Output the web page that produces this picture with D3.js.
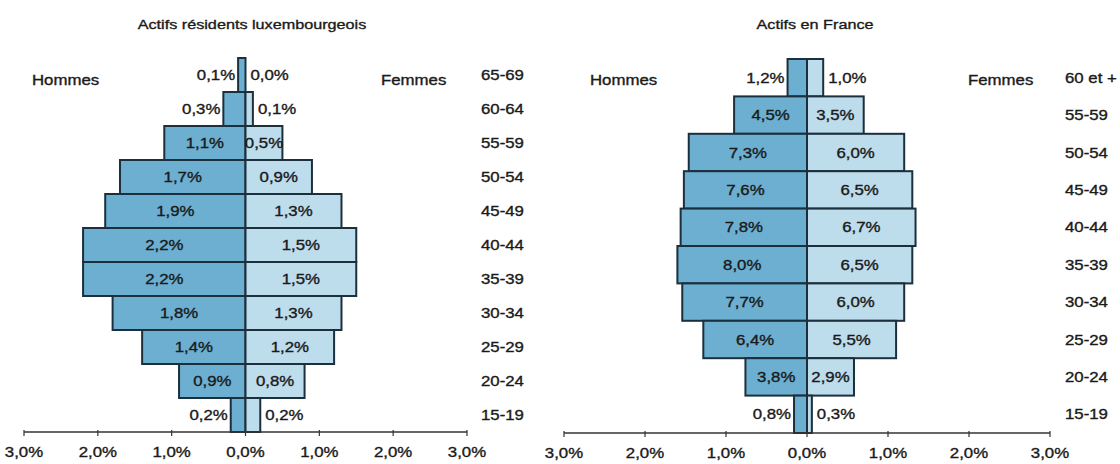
<!DOCTYPE html>
<html><head><meta charset="utf-8">
<script src="https://cdn.jsdelivr.net/npm/d3@7"></script>
<style>body{margin:0;background:#fff}svg{display:block}</style>
</head><body>
<svg id="c" width="1120" height="464"></svg>
<script>
const ageLux = ["65-69","60-64","55-59","50-54","45-49","40-44","35-39","30-34","25-29","20-24","15-19"];
const luxHommes = [0.1,0.3,1.1,1.7,1.9,2.2,2.2,1.8,1.4,0.9,0.2];
const luxFemmes = [0.0,0.1,0.5,0.9,1.3,1.5,1.5,1.3,1.2,0.8,0.2];
const ageFr = ["60 et +","55-59","50-54","45-49","40-44","35-39","30-34","25-29","20-24","15-19"];
const frHommes = [1.2,4.5,7.3,7.6,7.8,8.0,7.7,6.4,3.8,0.8];
const frFemmes = [1.0,3.5,6.0,6.5,6.7,6.5,6.0,5.5,2.9,0.3];
const tickValues = [-3,-2,-1,0,1,2,3];
const tickLabels = ["3,0%","2,0%","1,0%","0,0%","1,0%","2,0%","3,0%"];
const titles = ["Actifs résidents luxembourgeois","Actifs en France"];

const svg = d3.select("#c");
const FONT = "'Liberation Sans', Arial, sans-serif";
const FS = 14, SX = 1.2;
const fmt = v => v.toFixed(1).replace('.', ',') + '%';
const colH = "#6cafd1", colF = "#bddcec", stroke = "#1b2f3c";

function txt(g, x, y, s, anchor, size) {
  g.append("text").attr("transform", `translate(${x},${y}) scale(${SX},1)`)
    .attr("text-anchor", anchor || "start").attr("font-family", FONT)
    .attr("font-size", size || FS).attr("fill", "#1a1a1a")
    .attr("stroke", "#1a1a1a").attr("stroke-width", 0.35).text(s);
}

function pyramid(cfg) {
  const g = svg.append("g");
  const x = d3.scaleLinear().domain([-3, 3]).range(cfg.xr);
  const y = d3.scaleBand().domain(cfg.ages).range(cfg.yr).padding(0);
  const bw = y.bandwidth();
  const x0 = x(0);
  const rows = cfg.ages.map((a, i) => ({a, h: cfg.h[i], f: cfg.f[i]}));
  g.selectAll("rect.h").data(rows).join("rect")
    .attr("x", d => x(-d.h / cfg.k)).attr("y", d => y(d.a))
    .attr("width", d => x0 - x(-d.h / cfg.k)).attr("height", bw)
    .attr("fill", colH).attr("stroke", stroke).attr("stroke-width", 2);
  g.selectAll("rect.f").data(rows).join("rect")
    .attr("x", x0).attr("y", d => y(d.a))
    .attr("width", d => x(d.f / cfg.k) - x0).attr("height", bw)
    .attr("fill", colF).attr("stroke", stroke).attr("stroke-width", 2);
  const LW = 40;
  rows.forEach(d => {
    const cy = y(d.a) + bw / 2 + 5;
    const wh = x0 - x(-d.h / cfg.k);
    if (wh >= LW - 2) txt(g, x0 - wh / 2, cy, fmt(d.h), "middle");
    else txt(g, x0 - wh - 3, cy, fmt(d.h), "end");
    const wf = x(d.f / cfg.k) - x0;
    if (wf >= LW - 4) txt(g, x0 + wf / 2, cy, fmt(d.f), "middle");
    else txt(g, x0 + Math.max(wf + 5, 5), cy, fmt(d.f), "start");
    txt(g, cfg.catX, cy, d.a, "start");
  });
  const ay = cfg.axisY;
  g.append("line").attr("x1", x(-3)).attr("x2", x(3)).attr("y1", ay).attr("y2", ay)
    .attr("stroke", "#333").attr("stroke-width", 1.5);
  g.selectAll("line.t").data(tickValues).join("line")
    .attr("x1", d => x(d)).attr("x2", d => x(d)).attr("y1", ay - 2).attr("y2", ay + 4)
    .attr("stroke", "#333").attr("stroke-width", 1.2);
  tickValues.forEach((t, i) => txt(g, x(t), ay + 25, tickLabels[i], "middle"));
  txt(g, cfg.titleX, 29, cfg.title, "middle", 13.5);
  txt(g, cfg.hommesX, 85, "Hommes", "start");
  txt(g, cfg.femmesX, 85, "Femmes", "start");
}

pyramid({ages: ageLux, h: luxHommes, f: luxFemmes, k: 1, xr: [24, 467], yr: [58, 432],
  axisY: 432, catX: 481, titleX: 252, title: titles[0], hommesX: 32, femmesX: 381});
pyramid({ages: ageFr, h: frHommes, f: frFemmes, k: 5, xr: [564, 1050], yr: [59, 433],
  axisY: 433, catX: 1065, titleX: 815, title: titles[1], hommesX: 590, femmesX: 968});
</script>
</body></html>
